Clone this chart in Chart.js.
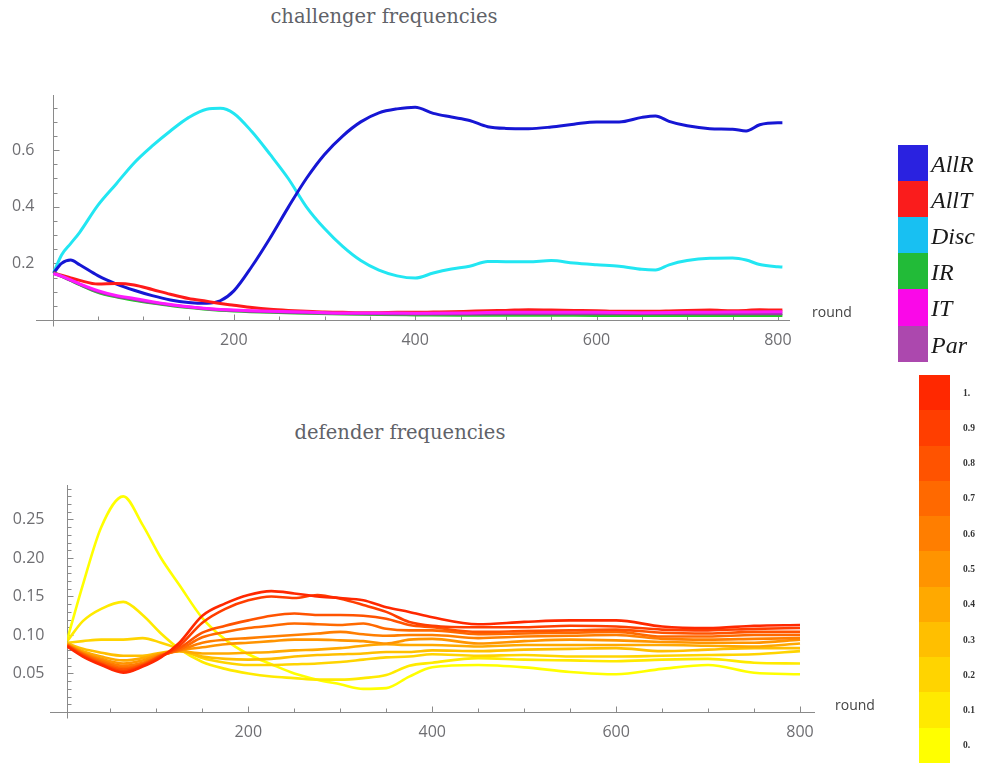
<!DOCTYPE html>
<html><head><meta charset="utf-8">
<script src="https://cdn.jsdelivr.net/npm/chart.js@4/dist/chart.umd.min.js"></script>
<style>
html,body{margin:0;padding:0;background:#fff;width:982px;height:763px;overflow:hidden;position:relative}
canvas{position:absolute;left:0}
#c1{top:0}
#c2{top:400px}
.title{position:absolute;font-family:"DejaVu Serif",serif;font-size:19.5px;color:#606268;white-space:nowrap;transform:translate(-50%,-50%)}
.sw{position:absolute;left:898px;width:30px}
.swl{position:absolute;left:931px;font-family:"Liberation Serif",serif;font-style:italic;font-size:24px;color:#1a1a1a;line-height:1;transform:translateY(-50%)}
.cb{position:absolute;left:919px;width:31px}
.cbl{position:absolute;left:963px;font-family:"Liberation Serif",serif;font-weight:bold;font-size:9.5px;color:#333;transform:translateY(-50%)}
</style></head><body>
<div class="title" style="left:384px;top:16px">challenger frequencies</div>
<div class="title" style="left:400px;top:432px">defender frequencies</div>
<canvas id="c1" width="982" height="370"></canvas>
<canvas id="c2" width="982" height="363"></canvas>
<div id="legend"></div>
<script>
// ---------- challenger data ----------
const challengerRounds = [1,10,20,30,50,70,90,110,130,150,170,185,200,220,240,260,280,300,320,340,360,380,400,420,440,460,480,500,525,550,575,600,625,650,665,680,700,725,750,765,780,800,805];
const allR = [0.165,0.200,0.212,0.195,0.157,0.128,0.105,0.086,0.071,0.062,0.059,0.068,0.103,0.190,0.290,0.398,0.500,0.585,0.650,0.700,0.732,0.746,0.752,0.730,0.717,0.705,0.683,0.677,0.676,0.682,0.692,0.700,0.700,0.716,0.721,0.702,0.686,0.676,0.674,0.668,0.690,0.697,0.697];
const disc = [0.165,0.230,0.270,0.310,0.405,0.480,0.555,0.615,0.668,0.715,0.745,0.748,0.730,0.665,0.585,0.500,0.400,0.323,0.260,0.210,0.176,0.156,0.148,0.166,0.180,0.190,0.207,0.206,0.206,0.210,0.201,0.195,0.190,0.179,0.177,0.195,0.210,0.218,0.219,0.212,0.196,0.188,0.187];
const allT = [0.167,0.158,0.149,0.140,0.127,0.129,0.124,0.108,0.091,0.076,0.066,0.058,0.052,0.044,0.038,0.034,0.031,0.028,0.027,0.026,0.026,0.027,0.027,0.028,0.029,0.031,0.033,0.034,0.036,0.035,0.034,0.033,0.031,0.031,0.031,0.032,0.034,0.035,0.033,0.034,0.036,0.035,0.035];
const lowRounds = [1,10,20,30,50,70,90,110,130,150,170,200,240,280,320,360,400,450,500,550,600,650,700,750,800,805];
const iT  = [0.165,0.155,0.142,0.128,0.104,0.087,0.076,0.065,0.055,0.047,0.041,0.035,0.031,0.028,0.025,0.025,0.024,0.025,0.027,0.027,0.027,0.026,0.027,0.028,0.029,0.029];
const iR  = [0.167,0.155,0.140,0.125,0.098,0.082,0.070,0.060,0.051,0.044,0.038,0.032,0.027,0.024,0.021,0.019,0.018,0.017,0.017,0.017,0.016,0.016,0.016,0.016,0.016,0.016];
const par = [0.165,0.154,0.140,0.126,0.100,0.084,0.073,0.062,0.053,0.046,0.040,0.034,0.029,0.026,0.023,0.022,0.021,0.021,0.022,0.022,0.022,0.022,0.022,0.022,0.022,0.022];
const strategyNames = ["AllR","AllT","Disc","IR","IT","Par"];
const topXTicks = [200,400,600,800];
const topYTicks = [0.2,0.4,0.6];

// ---------- defender data ----------
const defenderRounds = [3,20,40,64,85,105,125,150,175,200,225,250,275,300,325,350,375,400,450,500,550,600,650,700,750,800];
const def00 = [0.094,0.165,0.240,0.280,0.243,0.200,0.165,0.122,0.094,0.075,0.062,0.050,0.042,0.036,0.030,0.031,0.046,0.058,0.061,0.058,0.052,0.049,0.056,0.061,0.051,0.049];
const def01 = [0.092,0.118,0.134,0.143,0.126,0.102,0.082,0.065,0.056,0.050,0.046,0.044,0.042,0.042,0.044,0.048,0.060,0.064,0.070,0.068,0.067,0.066,0.068,0.069,0.064,0.063];
const def02 = [0.090,0.092,0.094,0.094,0.096,0.090,0.082,0.070,0.064,0.061,0.061,0.062,0.063,0.065,0.068,0.071,0.072,0.075,0.073,0.074,0.072,0.072,0.073,0.074,0.075,0.079];
const def03 = [0.089,0.082,0.077,0.073,0.073,0.077,0.079,0.072,0.069,0.068,0.069,0.072,0.074,0.075,0.076,0.078,0.078,0.080,0.079,0.081,0.082,0.083,0.079,0.081,0.083,0.083];
const def04 = [0.088,0.079,0.072,0.067,0.070,0.076,0.079,0.076,0.076,0.077,0.078,0.080,0.081,0.083,0.086,0.088,0.087,0.087,0.085,0.087,0.087,0.087,0.087,0.086,0.085,0.089];
const def05 = [0.088,0.077,0.069,0.063,0.067,0.075,0.080,0.084,0.088,0.090,0.092,0.094,0.094,0.093,0.092,0.089,0.094,0.095,0.089,0.092,0.094,0.093,0.091,0.090,0.090,0.094];
const def06 = [0.087,0.076,0.067,0.060,0.064,0.074,0.080,0.090,0.094,0.096,0.098,0.100,0.102,0.104,0.101,0.099,0.100,0.100,0.096,0.098,0.099,0.100,0.095,0.094,0.095,0.096];
const def07 = [0.087,0.075,0.065,0.057,0.062,0.073,0.081,0.097,0.104,0.109,0.112,0.115,0.114,0.113,0.115,0.108,0.106,0.106,0.101,0.102,0.103,0.104,0.098,0.098,0.100,0.100];
const def08 = [0.086,0.074,0.063,0.055,0.061,0.073,0.083,0.103,0.112,0.119,0.125,0.128,0.126,0.126,0.125,0.121,0.113,0.110,0.104,0.105,0.106,0.107,0.103,0.102,0.104,0.104];
const def09 = [0.086,0.073,0.062,0.053,0.060,0.072,0.086,0.116,0.134,0.145,0.150,0.148,0.152,0.147,0.139,0.130,0.117,0.112,0.110,0.110,0.112,0.111,0.107,0.106,0.108,0.109];
const def10 = [0.085,0.072,0.061,0.051,0.059,0.071,0.090,0.125,0.141,0.152,0.157,0.154,0.150,0.148,0.145,0.136,0.130,0.123,0.114,0.117,0.119,0.119,0.111,0.109,0.112,0.113];
const defenderSeries = [def00,def01,def02,def03,def04,def05,def06,def07,def08,def09,def10];
const shadeLevels = [0,0.1,0.2,0.3,0.4,0.5,0.6,0.7,0.8,0.9,1];
const shadeLabels = ["0.","0.1","0.2","0.3","0.4","0.5","0.6","0.7","0.8","0.9","1."];
const bottomXTicks = [200,400,600,800];
const bottomYTicks = [0.05,0.10,0.15,0.20,0.25];

// ---------- styles ----------
const lineColors = {AllR:'#1616d4',AllT:'#ff1a1a',Disc:'#22e6f2',IR:'#22cc22',IT:'#ff1aff',Par:'#9a3aa8'};
const swatchColors = {AllR:'#2a22e0',AllT:'#fa1c1c',Disc:'#18c0f2',IR:'#22bb38',IT:'#fa08e8',Par:'#ac48ae'};
const drawOrder = {IT:0,Par:1,IR:2,AllT:3,AllR:4,Disc:5};
function shade(t){ return 'rgb(255,'+Math.round(255-215*t)+',0)'; }
function pts(xs,ys){ return xs.map((x,i)=>({x:x,y:ys[i]})); }

function axesPlugin(o){
  return {
    id:'mmaAxes',
    beforeDatasetsDraw(chart){
      const c=chart.ctx, xs=chart.scales.x, ys=chart.scales.y;
      const x0=Math.round(xs.getPixelForValue(o.originX))+0.5, y0=Math.round(ys.getPixelForValue(0))+0.5;
      c.save();
      c.strokeStyle='#8a8a8a'; c.lineWidth=1;
      c.beginPath();
      c.moveTo(o.xFrom,y0); c.lineTo(o.xTo,y0);
      c.moveTo(x0,o.yTop); c.lineTo(x0,y0+o.yBelow);
      for(let v=o.xStep; v<=o.xMaxTick; v+=o.xStep){
        const px=Math.round(xs.getPixelForValue(v))+0.5;
        const L = (v%o.xMajor===0)?6:4;
        c.moveTo(px,y0); c.lineTo(px,y0-L);
      }
      const n=Math.round(o.yMaxTick/o.yStep);
      for(let k=1;k<=n;k++){
        const v=k*o.yStep;
        const py=Math.round(ys.getPixelForValue(v))+0.5;
        const major = (k % o.yMajorEvery)===0;
        c.moveTo(x0,py); c.lineTo(x0+(major?6:4),py);
      }
      c.stroke();
      c.fillStyle='#6e6e72';
      c.font='16px "Open Sans", sans-serif';
      c.textAlign='center'; c.textBaseline='middle';
      o.xLabels.forEach(v=>{ c.fillText(String(v), xs.getPixelForValue(v), y0+20); });
      c.textAlign='right';
      o.yLabels.forEach(v=>{ c.fillText(v.toFixed(o.yDec), x0-o.yGap, ys.getPixelForValue(v)); });
      c.fillStyle='#444';
      c.font='14px "Open Sans", sans-serif';
      c.textAlign='left';
      c.fillText('round', o.roundX, y0+o.roundDy);
      c.restore();
    }
  };
}

const common = {
  responsive:false, animation:false, devicePixelRatio:1,
  plugins:{legend:{display:false}, tooltip:{enabled:false}},
  elements:{point:{radius:0}},
};

new Chart(document.getElementById('c1'), {
  type:'line',
  data:{datasets:[
    {label:'AllR', data:pts(challengerRounds,allR)},
    {label:'AllT', data:pts(challengerRounds,allT)},
    {label:'Disc', data:pts(challengerRounds,disc)},
    {label:'IR', data:pts(lowRounds,iR)},
    {label:'IT', data:pts(lowRounds,iT)},
    {label:'Par', data:pts(lowRounds,par)}
  ].map(d=>Object.assign(d,{borderColor:lineColors[d.label], borderWidth:3, cubicInterpolationMode:'monotone', fill:false, order:drawOrder[d.label]}))},
  options:Object.assign({}, common, {
    layout:{padding:{left:52.5, top:95, right:982-790, bottom:370-320}},
    scales:{
      x:{type:'linear', min:0, max:813.4, display:false},
      y:{type:'linear', min:0, max:0.795, display:false}
    }
  }),
  plugins:[axesPlugin({originX:0, xFrom:36, xTo:790, yTop:95, yBelow:6, xStep:50, xMaxTick:800, xMajor:200,
    yStep:0.05, yMaxTick:0.75, yMajorEvery:4, xLabels:topXTicks, yLabels:topYTicks, yDec:1, yGap:19, roundX:812, roundDy:-7})]
});

new Chart(document.getElementById('c2'), {
  type:'line',
  data:{datasets: defenderSeries.map((s,i)=>({
    label:shadeLabels[i], data:pts(defenderRounds,s), borderColor:shade(shadeLevels[i]),
    borderWidth:2.6, cubicInterpolationMode:'monotone', fill:false, order:10-i
  }))},
  options:Object.assign({}, common, {
    layout:{padding:{left:67.2, top:85, right:982-815, bottom:363-312}},
    scales:{
      x:{type:'linear', min:3, max:816.3, display:false},
      y:{type:'linear', min:0, max:0.2948, display:false}
    }
  }),
  plugins:[axesPlugin({originX:3, xFrom:50, xTo:815, yTop:85, yBelow:6, xStep:50, xMaxTick:800, xMajor:200,
    yStep:0.01, yMaxTick:0.29, yMajorEvery:5, xLabels:bottomXTicks, yLabels:bottomYTicks, yDec:2, yGap:23, roundX:835, roundDy:-6})]
});

// ---------- legends ----------
const lg=document.getElementById('legend');
const cellH=36.1;
strategyNames.forEach((n,i)=>{
  const s=document.createElement('div'); s.className='sw';
  s.style.top=(145+i*cellH)+'px'; s.style.height=(cellH+0.5)+'px'; s.style.background=swatchColors[n];
  lg.appendChild(s);
  const l=document.createElement('div'); l.className='swl'; l.textContent=n;
  l.style.top=(145+i*cellH+cellH/2+1)+'px';
  lg.appendChild(l);
});
const cbH=(763-375)/11;
for(let k=0;k<11;k++){
  const idx=10-k;
  const s=document.createElement('div'); s.className='cb';
  s.style.top=(375+k*cbH)+'px'; s.style.height=(cbH+0.5)+'px'; s.style.background=shade(shadeLevels[idx]);
  lg.appendChild(s);
  const l=document.createElement('div'); l.className='cbl'; l.textContent=shadeLabels[idx];
  l.style.top=(375+k*cbH+cbH/2)+'px';
  lg.appendChild(l);
}
</script>
</body></html>
